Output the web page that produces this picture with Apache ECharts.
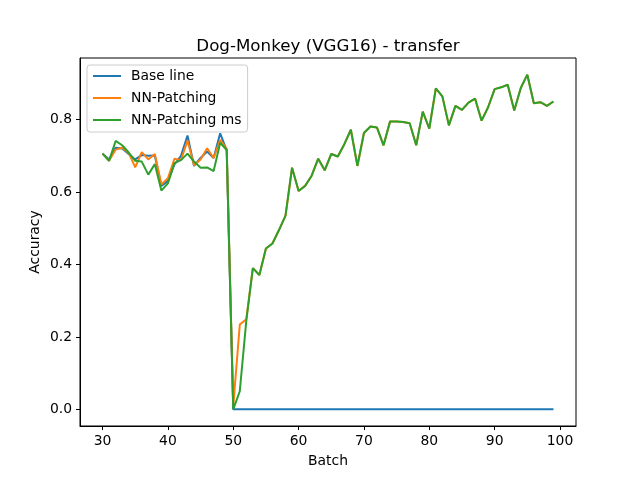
<!DOCTYPE html>
<html>
<head>
<meta charset="utf-8">
<script src="https://cdn.jsdelivr.net/npm/echarts@6/dist/echarts.min.js"></script>
<style>html,body{margin:0;padding:0;background:#fff}#c{width:640px;height:480px}</style>
</head>
<body>
<div id="c"></div>
<script>
var batchStart = 30;
var baseLine = [0.706,0.690,0.722,0.720,0.705,0.690,0.702,0.700,0.701,0.617,0.630,0.676,0.700,0.756,0.672,0.694,0.712,0.694,0.762,0.714,
  0,0,0,0,0,0,0,0,0,0, 0,0,0,0,0,0,0,0,0,0, 0,0,0,0,0,0,0,0,0,0, 0,0,0,0,0,0,0,0,0,0, 0,0,0,0,0,0,0,0,0,0];
var nnPatching = [0.706,0.686,0.717,0.722,0.708,0.668,0.710,0.690,0.705,0.621,0.638,0.692,0.688,0.742,0.674,0.690,0.721,0.694,0.744,0.719,
  0.008,0.234,0.249,0.390,0.371,0.444,0.458,0.495,0.535,0.667,0.603,0.617,0.645,0.692,0.660,0.705,0.698,0.732,0.772,0.672,
  0.763,0.781,0.778,0.729,0.795,0.795,0.793,0.790,0.729,0.822,0.775,0.886,0.864,0.784,0.838,0.827,0.847,0.858,0.797,0.834,
  0.884,0.889,0.896,0.825,0.887,0.924,0.845,0.848,0.838,0.850];
var nnPatchingMs = [0.706,0.686,0.741,0.729,0.709,0.686,0.684,0.648,0.677,0.604,0.624,0.680,0.688,0.706,0.684,0.667,0.668,0.658,0.736,0.716,
  0.000,0.050,0.245,0.390,0.371,0.444,0.458,0.495,0.535,0.667,0.603,0.617,0.645,0.692,0.660,0.705,0.698,0.732,0.772,0.672,
  0.763,0.781,0.778,0.729,0.795,0.795,0.793,0.790,0.729,0.822,0.775,0.886,0.864,0.784,0.838,0.827,0.847,0.858,0.797,0.834,
  0.884,0.889,0.896,0.825,0.887,0.924,0.845,0.848,0.838,0.850];
var xTicks = [30,40,50,60,70,80,90,100];
var yTicks = [0,0.2,0.4,0.6,0.8];
var seriesNames = ['Base line','NN-Patching','NN-Patching ms'];
var colors = ['#1f77b4','#ff7f0e','#2ca02c'];

function pairs(arr){ return arr.map(function(v,i){ return [batchStart+i, v]; }); }
var font = 'DejaVu Sans';
var fs = 13.9;
var chart = echarts.init(document.getElementById('c'));
var allData = [baseLine, nnPatching, nnPatchingMs];
chart.setOption({
  animation: false,
  backgroundColor: '#fff',
  title: {text: 'Dog-Monkey (VGG16) - transfer', left: 323, top: 33, textAlign: 'center',
    textStyle: {fontFamily: font, fontSize: 16.7, fontWeight: 'normal', color: '#000'}},
  legend: {left: 87, top: 65, orient: 'vertical', padding: [4,6,5,5], itemGap: 8, itemWidth: 28, itemHeight: 14,
    borderColor: '#cccccc', borderWidth: 1, borderRadius: 3, backgroundColor: 'rgba(255,255,255,0.8)',
    itemStyle: {opacity: 0},
    textStyle: {fontFamily: font, fontSize: fs, color: '#000', padding: [0,0,0,5]},
    data: seriesNames},
  grid: {left: 80, right: 64, top: 58, bottom: 54, show: true, borderColor: '#000', borderWidth: 1, containLabel: false},
  xAxis: {type: 'value', min: 26.55, max: 102.45,
    name: 'Batch', nameLocation: 'middle', nameGap: 28,
    nameTextStyle: {fontFamily: font, fontSize: fs, color: '#000'},
    axisLine: {show: true, onZero: false, lineStyle: {color: '#000', width: 1}},
    axisTick: {show: true, inside: false, length: 4, lineStyle: {color: '#000'}, customValues: xTicks},
    axisLabel: {fontFamily: font, fontSize: fs, color: '#000', margin: 8, customValues: xTicks},
    splitLine: {show: false}},
  yAxis: {type: 'value', min: -0.046, max: 0.97,
    name: 'Accuracy', nameLocation: 'middle', nameGap: 38, nameRotate: 90, nameMoveOverlap: false,
    nameTextStyle: {fontFamily: font, fontSize: fs, color: '#000'},
    axisLine: {show: true, onZero: false, lineStyle: {color: '#000', width: 1}},
    axisTick: {show: true, inside: false, length: 4, lineStyle: {color: '#000'}, customValues: yTicks},
    axisLabel: {fontFamily: font, fontSize: fs, color: '#000', margin: 8, customValues: yTicks,
      formatter: function(v){ return v.toFixed(1); }},
    splitLine: {show: false}},
  series: allData.map(function(arr, k){
    return {name: seriesNames[k], type: 'line', data: pairs(arr), symbol: 'none',
      lineStyle: {color: colors[k], width: 2}, itemStyle: {color: colors[k]}};
  })
});
</script>
</body>
</html>
